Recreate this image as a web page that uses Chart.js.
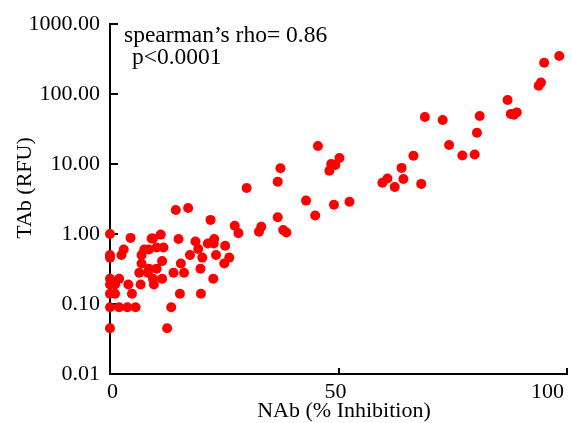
<!DOCTYPE html>
<html>
<head>
<meta charset="utf-8">
<script src="https://cdn.jsdelivr.net/npm/chart.js@4.4.0/dist/chart.umd.min.js"></script>
<style>
html,body{margin:0;padding:0;background:#ffffff;overflow:hidden}
#wrap{width:572px;height:423px;position:relative}
</style>
</head>
<body>
<div id="wrap"><canvas id="c" width="572" height="423"></canvas></div>
<script>
// ---- data ----
const nabInhibition = [
  0, 0, 0, 0, 0, 0, 0, 0,
  1.1, 2.0, 1.1, 2.0, 3.8, 5.6, 4.0, 4.8, 2.5, 3.0, 4.5,
  6.7, 6.4, 6.9, 6.9, 7.5, 8.5, 9.1, 9.4, 10.2, 11.1, 11.7,
  8.3, 8.5, 10.2, 9.4, 9.6, 11.4, 11.4, 13.4, 12.5,
  13.9, 14.4, 15.0, 15.5, 16.2, 15.3, 17.1, 17.5, 18.7, 19.3, 19.8, 19.9, 20.2,
  21.4, 22.0, 22.7, 22.8, 22.6, 23.2, 25.2, 25.0, 26.1,
  27.3, 28.1, 29.9, 32.6, 33.1, 36.7, 36.7, 37.3, 37.9, 38.6,
  42.9, 44.9, 45.5, 48.0, 48.4, 49.3, 50.2, 49.0, 52.4,
  59.6, 60.7, 62.3, 63.8, 64.2, 66.4, 68.1,
  68.9, 72.8, 74.2, 77.1, 79.8, 80.3, 80.9,
  87.0, 87.7, 88.4, 89.0, 93.8, 94.3, 95.0, 98.3
];
const tabRfu = [
  1.0, 0.5, 0.46, 0.23, 0.19, 0.14, 0.09, 0.045,
  0.19, 0.23, 0.14, 0.09, 0.09, 0.09, 0.19, 0.14, 0.5, 0.6, 0.88,
  0.19, 0.28, 0.38, 0.5, 0.6, 0.6, 0.86, 0.86, 0.64, 0.98, 0.64,
  0.28, 0.32, 0.32, 0.23, 0.19, 0.41, 0.23, 0.09, 0.045,
  0.28, 2.2, 0.85, 0.38, 0.28, 0.14, 2.35, 0.5, 0.78, 0.61, 0.32, 0.14, 0.46,
  0.73, 1.59, 0.73, 0.85, 0.23, 0.5, 0.68, 0.38, 0.46,
  1.31, 1.03, 4.54, 1.08, 1.27, 1.73, 5.6, 8.7, 1.14, 1.05,
  3.0, 1.84, 18.1, 8.0, 10.0, 9.7, 12.2, 2.62, 2.89,
  5.4, 6.2, 4.7, 8.8, 6.1, 13.1, 5.2,
  47, 42.5, 18.7, 13.2, 13.7, 28, 48.5,
  82, 51.8, 50.6, 54.6, 131, 146, 280, 350
];
const xTickValues = [0, 50, 100];
const yTickValues = [0.01, 0.1, 1, 10, 100, 1000];
const xAxisTitle = 'NAb (% Inhibition)';
const yAxisTitle = 'TAb (RFU)';
const statLines = ['spearman\u2019s rho= 0.86', ' p<0.0001'];

// ---- styling ----
const FONT = "'Liberation Serif', 'Times New Roman', serif";
const pointColor = '#ff0000';

const points = nabInhibition.map((x, i) => ({ x: x, y: tabRfu[i] }));

const innerTicks = {
  id: 'innerTicks',
  beforeDatasetsDraw(chart) {
    const ctx = chart.ctx;
    const xs = chart.scales.x, ys = chart.scales.y;
    const area = chart.chartArea;
    ctx.save();
    ctx.strokeStyle = '#000';
    ctx.lineWidth = 2;
    ctx.beginPath();
    yTickValues.forEach(v => {
      const py = Math.round(ys.getPixelForValue(v));
      ctx.moveTo(area.left, py);
      ctx.lineTo(area.left + 8, py);
    });
    xTickValues.forEach(v => {
      if (v === xs.min) return;
      const px = Math.round(xs.getPixelForValue(v));
      ctx.moveTo(px, area.bottom);
      ctx.lineTo(px, area.bottom - 6);
    });
    ctx.stroke();
    ctx.restore();
  },
  afterDraw(chart) {
    const ctx = chart.ctx;
    ctx.save();
    ctx.fillStyle = '#000';
    ctx.font = "23.5px " + FONT;
    ctx.textAlign = 'left';
    ctx.textBaseline = 'alphabetic';
    ctx.fillText(statLines[0], 124, 42);
    ctx.fillText(statLines[1], 126, 64);
    ctx.restore();
  }
};

new Chart(document.getElementById('c'), {
  type: 'scatter',
  data: {
    datasets: [{
      data: points,
      backgroundColor: pointColor,
      borderColor: pointColor,
      borderWidth: 0,
      pointRadius: 5,
      pointHoverRadius: 5,
      clip: false
    }]
  },
  options: {
    responsive: false,
    animation: false,
    events: [],
    layout: { padding: { top: 24, right: 2, bottom: 0, left: 0 } },
    plugins: { legend: { display: false }, tooltip: { enabled: false }, title: { display: false } },
    scales: {
      x: {
        type: 'linear',
        min: 0, max: 100,
        afterBuildTicks: s => { s.ticks = xTickValues.map(v => ({ value: v })); },
        afterFit: s => { s.height = 49; s.paddingLeft = 0; s.paddingRight = 0; },
        grid: { display: true, drawOnChartArea: false, drawTicks: false },
        border: { display: true, color: '#000', width: 2 },
        ticks: {
          color: '#000',
          font: { family: FONT, size: 22 },
          padding: 5,
          align: 'inner',
          labelOffset: -3,
          maxRotation: 0,
          callback: v => String(v)
        },
        title: {
          display: true,
          text: '  ' + xAxisTitle,
          color: '#000',
          font: { family: FONT, size: 22, lineHeight: 1.1 },
          padding: { top: 0, bottom: 0 }
        }
      },
      y: {
        type: 'logarithmic',
        min: 0.01, max: 1000,
        afterBuildTicks: s => { s.ticks = yTickValues.map(v => ({ value: v })); },
        afterFit: s => { s.width = 110; s.paddingTop = 0; s.paddingBottom = 0; },
        grid: { display: true, drawOnChartArea: false, drawTicks: false },
        border: { display: true, color: '#000', width: 2 },
        ticks: {
          color: '#000',
          font: { family: FONT, size: 22 },
          padding: 10,
          callback: v => Number(v).toFixed(2)
        },
        title: {
          display: true,
          text: '    ' + yAxisTitle,
          color: '#000',
          font: { family: FONT, size: 22, lineHeight: 1.2 },
          padding: { top: 12, bottom: 0 }
        }
      }
    }
  },
  plugins: [innerTicks]
});
</script>
</body>
</html>
